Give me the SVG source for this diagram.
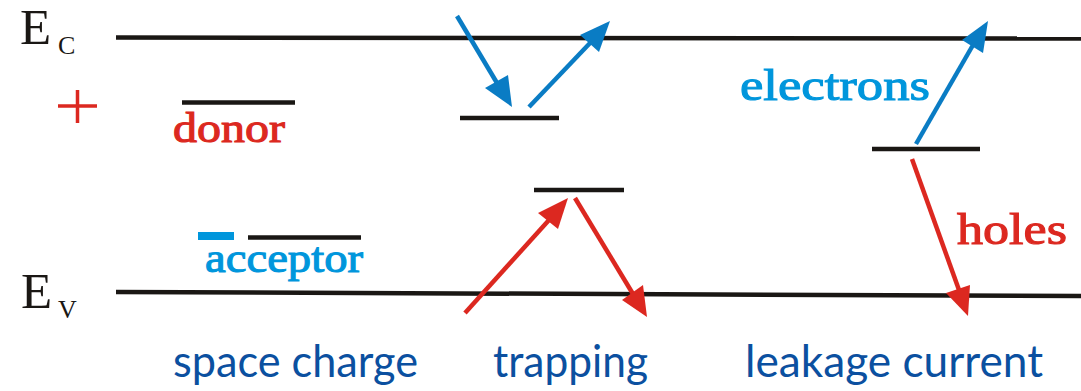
<svg xmlns="http://www.w3.org/2000/svg" width="1081" height="391" viewBox="0 0 1081 391">
<style>
.lvl{stroke:#1a1714;stroke-width:4.5;fill:none}
.band{stroke:#1a1714;stroke-width:4.5;fill:none}
.serif{font-family:"Liberation Serif","DejaVu Serif",serif;fill:#1a1714}
.lbl{font-family:"Liberation Serif","DejaVu Serif",serif;font-weight:normal;stroke-width:1.1}
.red{fill:#dc2820;stroke:#dc2820}
.lblue{fill:#0096dc;stroke:#0096dc}
.cap{font-family:Lato,"Open Sans","Liberation Sans",sans-serif;font-size:44px;fill:#0b50a0}
.ab{stroke:#0a7cc4;stroke-width:4.5;fill:none}
.ahb{fill:#0a7cc4}
.ar{stroke:#dc2820;stroke-width:4.5;fill:none}
.ahr{fill:#dc2820}
</style>
<rect width="1081" height="391" fill="#ffffff"/>
<g id="band-Ec">
<line class="band" x1="116" y1="37.5" x2="1081" y2="38.5"/>
<text class="serif" x="20" y="44" font-size="51">E</text>
<text class="serif" x="58" y="54" font-size="26">C</text>
</g>
<g id="band-Ev">
<line class="band" x1="116" y1="292" x2="1081" y2="296"/>
<text class="serif" x="21" y="308" font-size="51">E</text>
<text class="serif" x="58" y="318" font-size="26">V</text>
</g>
<g id="donor">
<path d="M58 106H97M77.5 90V123" stroke="#dc2820" stroke-width="3.5" fill="none"/>
<line class="lvl" x1="182" y1="102.5" x2="295" y2="102.5"/>
<text class="lbl red" x="173" y="142" font-size="43" textLength="112" lengthAdjust="spacingAndGlyphs">donor</text>
</g>
<g id="acceptor">
<rect x="198" y="232" width="36" height="8" fill="#0096dc"/>
<line class="lvl" x1="248" y1="237.5" x2="361" y2="237.5"/>
<text class="lbl lblue" x="205" y="272" font-size="43" textLength="158" lengthAdjust="spacingAndGlyphs">acceptor</text>
</g>
<g id="trap-upper">
<line class="lvl" x1="460" y1="118" x2="559" y2="118"/>
</g>
<g id="trap-lower">
<line class="lvl" x1="534" y1="190" x2="624" y2="190"/>
</g>
<g id="leak-level">
<line class="lvl" x1="872" y1="149" x2="980" y2="149"/>
<text class="lbl lblue" x="740" y="100" font-size="45" textLength="190" lengthAdjust="spacingAndGlyphs">electrons</text>
<text class="lbl red" x="957" y="244" font-size="45" textLength="110" lengthAdjust="spacingAndGlyphs">holes</text>
</g>
<g id="captions">
<text class="cap" x="173" y="377" textLength="245" lengthAdjust="spacingAndGlyphs">space charge</text>
<text class="cap" x="493" y="377" textLength="155" lengthAdjust="spacingAndGlyphs">trapping</text>
<text class="cap" x="745" y="377" textLength="298" lengthAdjust="spacingAndGlyphs">leakage current</text>
</g>
<g id="connectors">
<line class="ab" x1="457" y1="16" x2="497" y2="83"/>
<polygon class="ahb" points="512,107 485,88 508,75"/>
<line class="ab" x1="529" y1="107" x2="591" y2="42"/>
<polygon class="ahb" points="610,21 580,35 599,52"/>
<line class="ar" x1="465" y1="313" x2="549" y2="220"/>
<polygon class="ahr" points="568,198 538,213 558,229"/>
<line class="ar" x1="575" y1="198" x2="633" y2="294"/>
<polygon class="ahr" points="647,317 622,300 643,285"/>
<line class="ab" x1="916" y1="144" x2="973" y2="45"/>
<polygon class="ahb" points="988,21 962,40 983,53"/>
<line class="ar" x1="912" y1="159" x2="959" y2="290"/>
<polygon class="ahr" points="968,316 946,293 970,285"/>
</g>
</svg>
